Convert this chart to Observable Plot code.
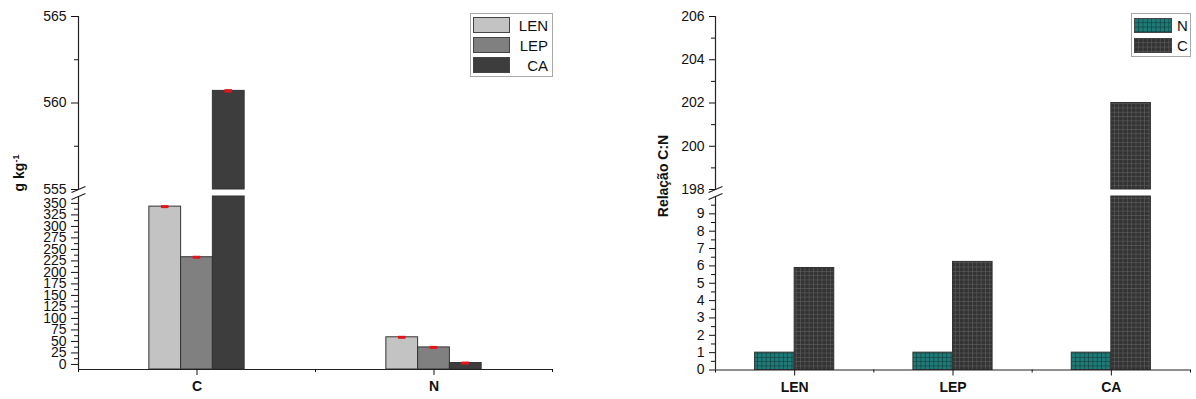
<!DOCTYPE html>
<html>
<head>
<meta charset="utf-8">
<script src="https://cdn.jsdelivr.net/npm/d3@7"></script>
<script src="https://cdn.jsdelivr.net/npm/@observablehq/plot@0.6"></script>
<style>
  body { margin: 0; background: #fff; }
  #wrap { position: relative; width: 1196px; height: 399px; background: #fff; font-family: "Liberation Sans", Arial, sans-serif; color: #111; overflow: hidden; }
  .panel { position: absolute; top: 0; width: 598px; height: 399px; }
  .panel svg { position: absolute; left: 0; top: 0; max-width: none !important; }
  .legend { position: absolute; border: 1px solid #a8a8a8; background: #fff; box-sizing: border-box; }
  .legrow { position: absolute; left: 2px; display: flex; align-items: center; }
  .legrow svg { display: block; }
  .legtxt { position: absolute; font-size: 15px; line-height: 15px; }
  .ytitle { position: absolute; font-weight: bold; font-size: 14px; white-space: nowrap; transform: translate(-50%, -50%) rotate(-90deg); }
  .ytitle sup { font-size: 9px; }
</style>
</head>
<body>
<div id="wrap">
  <svg width="0" height="0" style="position:absolute">
    <defs>
      <pattern id="patN" patternUnits="userSpaceOnUse" width="4.3" height="4.3">
        <rect width="4.3" height="4.3" fill="#1f7a78"></rect>
        <path d="M0,0.3H4.3M0.3,0V4.3" stroke="#0c3b3a" stroke-width="0.7"></path>
      </pattern>
      <pattern id="patC" patternUnits="userSpaceOnUse" width="4.3" height="4.3">
        <rect width="4.3" height="4.3" fill="#333333"></rect>
        <path d="M0,0.3H4.3M0.3,0V4.3" stroke="#5e5e5e" stroke-width="0.7"></path>
      </pattern>
    </defs>
  </svg>
  <div id="left" class="panel" style="left:0"></div>
  <div id="right" class="panel" style="left:598px"></div>
  <div class="ytitle" style="left:19px;top:173px">g kg<sup>-1</sup></div>
  <div class="ytitle" style="left:663px;top:176px">Relação C:N</div>
  <div id="legL" class="legend" style="left:470px;top:13px;width:83px;height:64px"></div>
  <div id="legR" class="legend" style="left:1131px;top:13px;width:60px;height:44px"></div>
</div>
<script>
// ---------- data ----------
const leftCategories = ["C", "N"];
const leftSeries = ["LEN", "LEP", "CA"];
const lenValues = [343, 59];
const lepValues = [233, 37];
const caValues = [560.7, 3];
const leftLowerDomain = [-11, 365];
const leftUpperDomain = [555, 565];
const leftLowerTicks = [0, 25, 50, 75, 100, 125, 150, 175, 200, 225, 250, 275, 300, 325, 350];
const leftLowerMinor = [12.5, 37.5, 62.5, 87.5, 112.5, 137.5, 162.5, 187.5, 212.5, 237.5, 262.5, 287.5, 312.5, 337.5];
const leftUpperTicks = [555, 560, 565];
const leftUpperMinor = [557.5, 562.5];

const rightCategories = ["LEN", "LEP", "CA"];
const rightSeries = ["N", "C"];
const nValues = [1, 1, 1];
const cValues = [5.88, 6.23, 202.0];
const rightLowerDomain = [0, 10];
const rightUpperDomain = [198, 206];
const rightLowerTicks = [0, 1, 2, 3, 4, 5, 6, 7, 8, 9];
const rightLowerMinor = [0.5, 1.5, 2.5, 3.5, 4.5, 5.5, 6.5, 7.5, 8.5, 9.5];
const rightUpperTicks = [198, 200, 202, 204, 206];
const rightUpperMinor = [199, 201, 203, 205];

// ---------- styles ----------
const font = "'Liberation Sans', Arial, sans-serif";
const leftFills = ["#c3c3c3", "#808080", "#3d3d3d"];
const rightFills = ["url(#patN)", "url(#patC)"];

const breakSymbol = {
  draw(ctx, size) {
    const r = Math.sqrt(size / Math.PI);
    ctx.moveTo(-r, r * 0.42);
    ctx.lineTo(r, -r * 0.42);
  }
};

function makePanel(el, cfg) {
  const rows = cfg.categories.flatMap((c, i) => cfg.series.map((s, j) => ({cat: c, series: s, i, j, value: cfg.values[j][i]})));
  const n = cfg.series.length;
  const x1 = d => d.i + 1 + (d.j - n / 2) * cfg.bw;
  const x2 = d => x1(d) + cfg.bw;
  const mid = d => x1(d) + cfg.bw / 2;
  const xDomain = [0.5, cfg.categories.length + 0.5];
  const common = {
    width: 598, height: 399,
    marginLeft: cfg.marginLeft, marginRight: cfg.marginRight,
    style: {fontFamily: font, fontSize: "14px", color: "#111", background: "transparent", overflow: "visible"}
  };
  const [lo0, lo1] = cfg.lower, [up0, up1] = cfg.upper;
  const errMarks = cfg.errors ? [
    Plot.ruleY(rows, {filter: d => d.value <= lo1, y: "value", x1: d => mid(d) - 0.016, x2: d => mid(d) + 0.016, stroke: "#e3141c", strokeWidth: 3})
  ] : [];
  const errMarksUp = cfg.errors ? [
    Plot.ruleY(rows, {filter: d => d.value >= up0, y: "value", x1: d => mid(d) - 0.016, x2: d => mid(d) + 0.016, stroke: "#e3141c", strokeWidth: 3.5})
  ] : [];
  const lower = Plot.plot({
    ...common,
    marginTop: 196, marginBottom: cfg.marginBottom,
    x: {domain: xDomain, label: null},
    y: {domain: cfg.lower, clamp: true, label: null},
    marks: [
      Plot.rect(rows, {x1, x2, y1: lo0, y2: d => Math.min(d.value, lo1), fill: d => cfg.fills[d.j], stroke: "#333", strokeWidth: 1}),
      ...errMarks,
      Plot.ruleX([0.5], {y1: lo0, y2: lo1, stroke: "#222", strokeWidth: 1.2}),
      Plot.ruleY([lo0], {x1: xDomain[0], x2: xDomain[1], stroke: "#222", strokeWidth: 1.2}),
      Plot.dot([lo1], {x: 0.5, y: d => d, symbol: breakSymbol, r: 7, stroke: "#222", strokeWidth: 1.2, fill: "none"}),
      Plot.axisY({ticks: cfg.lowerTicks, tickSize: cfg.tickSize, tickPadding: 5, label: null, fontSize: 14, tickFormat: d => d}),
      Plot.axisY({ticks: cfg.lowerMinor, tickSize: 4, label: null, tickFormat: () => ""}),
      Plot.axisX({ticks: d3.range(1, cfg.categories.length + 1), tickSize: 6, tickPadding: 6, label: null, fontWeight: "bold", fontSize: 14, tickFormat: v => cfg.categories[v - 1]}),
      Plot.axisX({ticks: d3.range(0.5, cfg.categories.length + 1, 1), tickSize: 3, label: null, tickFormat: () => ""})
    ]
  });
  const upper = Plot.plot({
    ...common,
    height: 190, marginTop: 16, marginBottom: 1,
    x: {domain: xDomain, label: null, axis: null},
    y: {domain: cfg.upper, clamp: true, label: null},
    marks: [
      Plot.rect(rows, {filter: d => d.value > up0, x1, x2, y1: up0, y2: "value", fill: d => cfg.fills[d.j], stroke: "#333", strokeWidth: 1}),
      ...errMarksUp,
      Plot.ruleX([0.5], {y1: up0, y2: up1, stroke: "#222", strokeWidth: 1.2}),
      Plot.dot([up0], {x: 0.5, y: d => d, symbol: breakSymbol, r: 7, stroke: "#222", strokeWidth: 1.2, fill: "none"}),
      Plot.axisY({ticks: cfg.upperTicks, tickSize: cfg.tickSize, tickPadding: 5, label: null, fontSize: 14, tickFormat: d => d}),
      Plot.axisY({ticks: cfg.upperMinor, tickSize: 4, label: null, tickFormat: () => ""})
    ]
  });
  el.append(lower, upper);
}

makePanel(document.getElementById("left"), {
  categories: leftCategories, series: leftSeries, values: [lenValues, lepValues, caValues],
  fills: leftFills, bw: 0.134, marginLeft: 78, marginRight: 46, marginBottom: 30, tickSize: 7, errors: true,
  lower: leftLowerDomain, upper: leftUpperDomain,
  lowerTicks: leftLowerTicks, lowerMinor: leftLowerMinor, upperTicks: leftUpperTicks, upperMinor: leftUpperMinor
});
makePanel(document.getElementById("right"), {
  categories: rightCategories, series: rightSeries, values: [nValues, cValues],
  fills: rightFills, bw: 0.25, marginLeft: 117, marginRight: 6, marginBottom: 29.5, tickSize: 6, errors: false,
  lower: rightLowerDomain, upper: rightUpperDomain,
  lowerTicks: rightLowerTicks, lowerMinor: rightLowerMinor, upperTicks: rightUpperTicks, upperMinor: rightUpperMinor
});

// ---------- legends ----------
function buildLegend(el, series, fills, rowTop, pitch, sw, sh, textRight, textLeft) {
  series.forEach((s, k) => {
    const row = document.createElement("div");
    row.className = "legrow";
    row.style.top = (rowTop + k * pitch) + "px";
    row.innerHTML = `<svg width="${sw}" height="${sh}"><rect x="0.5" y="0.5" width="${sw - 1}" height="${sh - 1}" fill="${fills[k]}" stroke="#444" stroke-width="1"></rect></svg>`;
    el.append(row);
    const t = document.createElement("div");
    t.className = "legtxt";
    t.textContent = s;
    t.style.top = (rowTop + k * pitch + (sh - 15) / 2) + "px";
    if (textRight != null) { t.style.right = textRight + "px"; } else { t.style.left = textLeft + "px"; }
    el.append(t);
  });
}
buildLegend(document.getElementById("legL"), leftSeries, leftFills, 3, 20, 37, 16, 4, null);
buildLegend(document.getElementById("legR"), rightSeries, rightFills, 4, 20, 38, 15, null, 45);
</script>
</body>
</html>
